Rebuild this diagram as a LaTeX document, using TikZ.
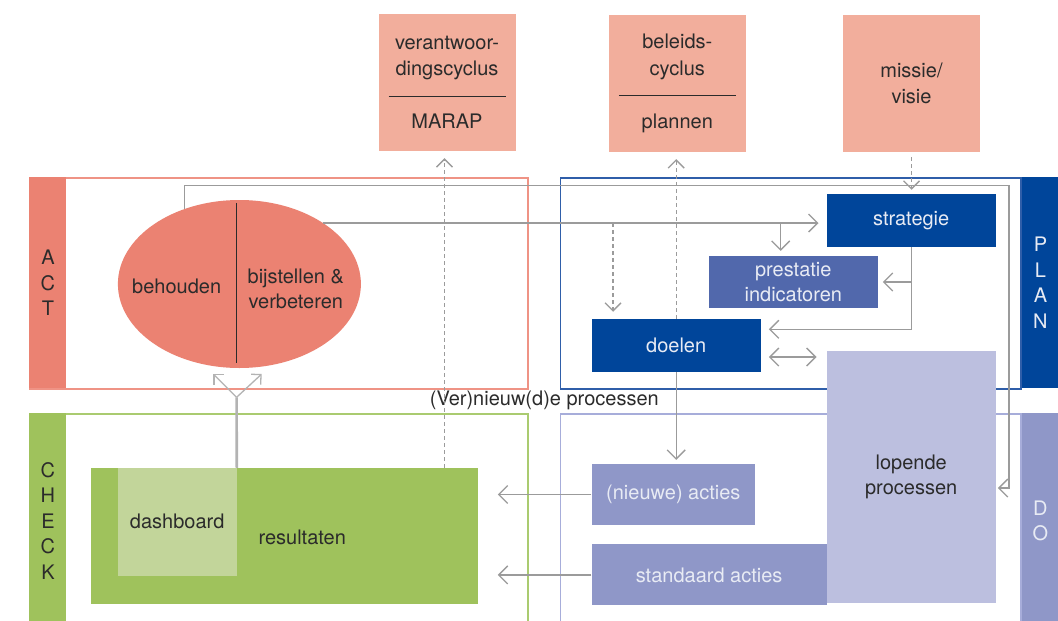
\documentclass[tikz,border=0pt]{standalone}
\usepackage{fontspec}
\setmainfont{TeX Gyre Heros}
\usepackage{xcolor}
\usepackage{tikz}
\usetikzlibrary{arrows.meta, shapes.geometric, positioning}

\definecolor{salmon}{HTML}{F2AE9C}
\definecolor{actred}{HTML}{EB8272}
\definecolor{actline}{HTML}{EF9385}
\definecolor{planblue}{HTML}{00459A}
\definecolor{planline}{HTML}{2F5EA9}
\definecolor{pimid}{HTML}{5168AC}
\definecolor{dopurple}{HTML}{8F97C8}
\definecolor{doline}{HTML}{A7ADDA}
\definecolor{dolight}{HTML}{BCBFDF}
\definecolor{checkgreen}{HTML}{9FC25C}
\definecolor{checkline}{HTML}{AACB70}
\definecolor{dashlight}{HTML}{C2D59A}
\definecolor{arrowgray}{HTML}{9B9B9B}
\definecolor{ygray}{HTML}{B3B3B3}
\definecolor{textdark}{HTML}{2B2B2B}
\definecolor{textlight}{HTML}{E8EBF4}

\begin{document}
\begin{tikzpicture}[x=1pt, y=-1pt, >={Straight Barb[length=9pt, width=18pt]},
                    font=\fontsize{20pt}{25.5pt}\selectfont, text=textdark]
\tikzstyle{box}=[rectangle, inner sep=0pt, align=center]
\tikzstyle{zone}=[box, line width=1.5pt, fill=white]
\tikzstyle{sidebar}=[box, minimum width=37, anchor=north west]
\tikzstyle{topbox}=[box, fill=salmon, minimum width=137, minimum height=137,
                    font=\fontsize{20pt}{26.5pt}\selectfont]
\tikzstyle{plaintext}=[inner sep=0pt, align=center]
\tikzstyle{flow}=[draw=arrowgray, line width=1.3pt, ->]
\tikzstyle{dashflow}=[flow, dash pattern=on 4pt off 3pt, >={Straight Barb[length=8pt, width=16pt]}]
\tikzstyle{yline}=[draw=ygray, line width=2.6pt]
  \useasboundingbox (0,0) rectangle (1058,621);
  \node[topbox] (verant) at (447,82.5)   {verantwoor-\\dingscyclus\\\rule[6pt]{117pt}{0.8pt}\\MARAP};
  \node[topbox] (beleid) at (677.3,83.5) {beleids-\\cyclus\\\rule[6pt]{117pt}{0.8pt}\\plannen};
  \node[topbox] (missie) at (911.5,83.5) {missie/\\visie};
  \node[zone, draw=actline,   minimum width=498,   minimum height=211] (actzone)   at (279,283.5)    {};
  \node[zone, draw=planline,  minimum width=460.3, minimum height=211] (planzone)  at (790.85,283.5) {};
  \node[zone, draw=checkline, minimum width=498,   minimum height=215] (checkzone) at (279,521.5)    {};
  \node[zone, draw=doline,    minimum width=460.3, minimum height=215] (dozone)    at (790.85,521.5) {};
  \node[sidebar, fill=actred,     minimum height=211] (actbar)   at (actzone.north west)   {A\\C\\T};
  \node[sidebar, fill=planblue,   minimum height=211, text=textlight] (planbar) at (planzone.north east) {P\\L\\A\\N};
  \node[sidebar, fill=checkgreen, minimum height=215] (checkbar) at (checkzone.north west) {C\\H\\E\\C\\K};
  \node[sidebar, fill=dopurple,   minimum height=215, text=textlight] (dobar)   at (dozone.north east)   {D\\O};
  \node[ellipse, fill=actred, minimum width=243, minimum height=168, inner sep=0pt] (ellipse) at (239.4,284) {};
  \draw[textdark, line width=1.2pt] ([xshift=-3.2pt, yshift=-3pt]ellipse.north) -- ([xshift=-3.2pt, yshift=5.3pt]ellipse.south);
  \node[plaintext] (behouden)   at (176.7,286) {behouden};
  \node[plaintext] (bijstellen) at (295.8,289) {bijstellen \&\\verbeteren};
  \node[box, fill=planblue, text=textlight, minimum width=169,   minimum height=52.7] (strategie) at (911.2,220.3) {strategie};
  \node[box, fill=pimid,    text=textlight, minimum width=168.7, minimum height=52]   (prestatie) at (793.3,282)   {prestatie\\indicatoren};
  \node[box, fill=planblue, text=textlight, minimum width=169,   minimum height=52.7] (doelen)    at (676.2,345.3) {doelen};
  \node[box, fill=dolight,  minimum width=169, minimum height=252] (lopende) at (911.2,477) {lopende\\processen};
  \node[box, fill=dopurple, text=textlight, minimum width=163.3, minimum height=61] (nieuwe) at (673.3,494.5) {(nieuwe) acties};
  \node[box, fill=dopurple, text=textlight, minimum width=235,   minimum height=61] (standaard) [below=19pt of nieuwe.south west, anchor=north west] {standaard acties};
  \node[box, fill=checkgreen, minimum width=386.6, minimum height=136] (resultaten) at (284.3,536) {};
  \node[box, fill=dashlight,  minimum width=118.8, minimum height=107.7] (dashboard) [below right=0pt and 26.8pt of resultaten.north west] {dashboard};
  \node[plaintext] (resultatentekst) at (302.2,537) {resultaten};
  \node[plaintext] (vernieuwd) at (544.3,400) {(Ver)nieuw(d)e processen};
  \coordinate (loopcorner) at (1009,185.7);
  \coordinate (pibranch)   at ([xshift=-12.6pt]prestatie.north);
  \coordinate (doelbranch) at ([xshift=-63.2pt]doelen.north);
  \coordinate (marapfoot)  at ([xshift=-2.5pt]verant.south);
  \coordinate (dubbel)     at ([yshift=-11.7pt]doelen.east);
  \coordinate (yjoin)      at (236.6,397.3);
  \coordinate (yleft)      at (213.3,374);
  \coordinate (yright)     at (261.7,374);
  \draw[flow, shorten >=2pt]  (ellipse.126) |- (loopcorner) |- ([yshift=-11pt]lopende.east);
  \draw[flow, shorten >=8pt]  (ellipse.36) -- (ellipse.36 -| strategie.west);
  \draw[flow, shorten >=5pt]  (pibranch |- ellipse.36) -- (pibranch);
  \draw[dashflow, shorten >=7pt] (doelbranch |- ellipse.36) -- (doelbranch);
  \draw[dashflow, shorten >=7pt] (doelen.north) -- (doelen.north |- beleid.south);
  \draw[dashflow, shorten >=7pt] (marapfoot |- resultaten.north) -- (marapfoot);
  \draw[dashflow, shorten <=5pt, shorten >=4pt] (missie.south) -- (missie.south |- strategie.north);
  \draw[flow, shorten >=8pt]  (strategie.south) |- ([yshift=16pt]doelen.east);
  \draw[flow, shorten >=5pt]  (strategie.south |- prestatie.east) -- (prestatie.east);
  \draw[flow, <->, shorten <=8pt, shorten >=10pt] (dubbel) -- (dubbel -| lopende.west);
  \draw[flow, shorten >=4pt]  (doelen.south) -- (doelen.south |- nieuwe.north);
  \draw[flow, shorten >=20pt] (nieuwe.west) -- (nieuwe.west -| resultaten.east);
  \draw[flow, shorten >=20pt] (standaard.west) -- (standaard.west -| resultaten.east);
  \draw[yline] (dashboard.north east) -- (yjoin);
  \draw[flow, draw=ygray, >={Straight Barb[length=7pt, width=14pt]}] (yjoin) -- (yleft);
  \draw[flow, draw=ygray, >={Straight Barb[length=7pt, width=14pt]}] (yjoin) -- (yright);
\end{tikzpicture}
\end{document}
